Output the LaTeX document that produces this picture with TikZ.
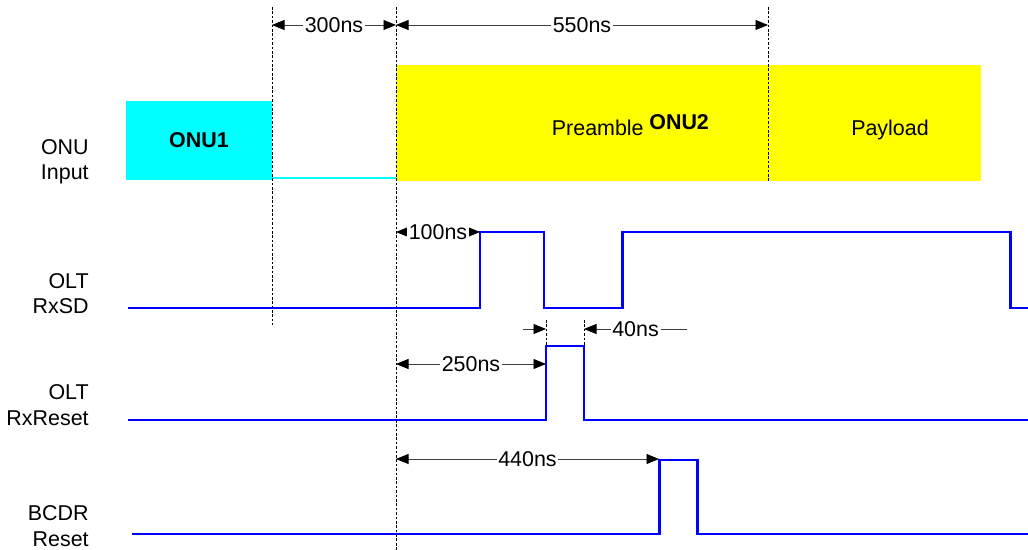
\documentclass[tikz,border=0pt]{standalone}
\usepackage{fontspec}
\setmainfont{Liberation Sans}
\usepackage{tikz}
\usetikzlibrary{positioning,arrows.meta}
\definecolor{sig}{HTML}{0000FF}
\definecolor{burstA}{HTML}{00FFFF}
\definecolor{burstB}{HTML}{FFFF00}
\definecolor{dimln}{HTML}{404040}
\tikzset{
  lbl/.style   ={align=right, anchor=east, inner sep=0pt, font=\fontsize{12.2}{14.5}\selectfont},
  txt/.style   ={inner sep=0pt, font=\fontsize{12.2}{14}\selectfont},
  btxt/.style  ={txt, font=\fontsize{12.2}{14}\selectfont\bfseries},
  wave/.style  ={draw=sig, line width=1.7pt},
  guide/.style ={draw=black, line width=0.45pt, dash pattern=on 1.5pt off 1pt},
  dimarr/.style={draw=dimln, line width=0.5pt, {Triangle[length=2.5mm,width=2mm,color=black]}-{Triangle[length=2.5mm,width=2mm,color=black]}},
  dimone/.style={draw=dimln, line width=0.5pt, -{Triangle[length=2.5mm,width=2mm,color=black]}},
  dimlbl/.style={fill=white, inner sep=1pt, font=\fontsize{12.2}{14}\selectfont},
}

\begin{document}
\begin{tikzpicture}[x=0.02cm, y=-0.02cm]
\useasboundingbox (0,0) rectangle (1028,550);

% bursts on the ONU input
\node[fill=burstA, minimum width=2.92cm, minimum height=1.58cm, inner sep=0pt,
      font=\fontsize{12.2}{14}\selectfont\bfseries] (onuA) at (199,140.5) {ONU1};
\node[fill=burstB, minimum width=11.7cm, minimum height=2.32cm, inner sep=0pt] (onuB) at (688.5,123) {};
\node[txt, anchor=base east] (pre) at (644,136) {Preamble};
\node[btxt, anchor=base west] (onuBname) at (649,130) {ONU2};
\node[txt, anchor=base] (pay) at (890,136) {Payload};
\draw[burstA, line width=1.1pt] (onuA.south east) ++(0,-2) coordinate (idleA) -- (onuB.south west |- idleA);

% time guides
\coordinate (gA) at (272,7);
\coordinate (gB) at (396,7);
\coordinate (gC) at (768,7);
\draw[guide] (gA) -- (272,325);
\draw[guide] (gB) -- (396,550);
\draw[guide] (gC) -- (768,181);
\draw[guide] (546,320) -- (546,346);
\draw[guide] (584,320) -- (584,346);

% signal names
\node[lbl] (lonu) at (89,162) {ONU\\Input};
\node[lbl] (lsd) at (89,293.5) {OLT\\RxSD};
\node[lbl] (lrst) at (89,405) {OLT\\RxReset};
\node[lbl] (lbcdr) at (89,526) {BCDR\\Reset};

% waveforms
\draw[wave] (128,308) -- (480,308) -- (480,232) -- (544,232) -- (544,308) -- (622,308)
  -- (622,232) -- (1010,232) -- (1010,308) -- (1028,308);
\draw[wave] (128,420) -- (546,420) -- (546,346) -- (584,346) -- (584,420) -- (1028,420);
\draw[wave] (132,534) -- (659,534) -- (659,460) -- (697,460) -- (697,534) -- (1028,534);

% timings
\coordinate (dA) at (272,25);
\coordinate (dB) at (396,25);
\coordinate (dC) at (768,25);
\draw[dimarr] (dA) -- node[dimlbl] {300ns} (dB);
\draw[dimarr] (dB) -- node[dimlbl] {550ns} (dC);
\coordinate (sd0) at (396,232);
\coordinate (sd1) at (480,232);
\draw[dimarr] (sd0) -- node[dimlbl] {100ns} (sd1);
\coordinate (rs0) at (396,364);
\coordinate (rs1) at (546,364);
\draw[dimarr] (rs0) -- node[dimlbl] {250ns} (rs1);
\coordinate (bc0) at (396,459);
\coordinate (bc1) at (659,459);
\draw[dimarr] (bc0) -- node[dimlbl] {440ns} (bc1);
\coordinate (wd0) at (523,329);
\coordinate (wd1) at (546,329);
\coordinate (wd2) at (584,329);
\coordinate (wd3) at (687,329);
\draw[dimone] (wd0) -- (wd1);
\draw[dimone] (wd3) -- node[dimlbl] {40ns} (wd2);

\end{tikzpicture}
\end{document}
